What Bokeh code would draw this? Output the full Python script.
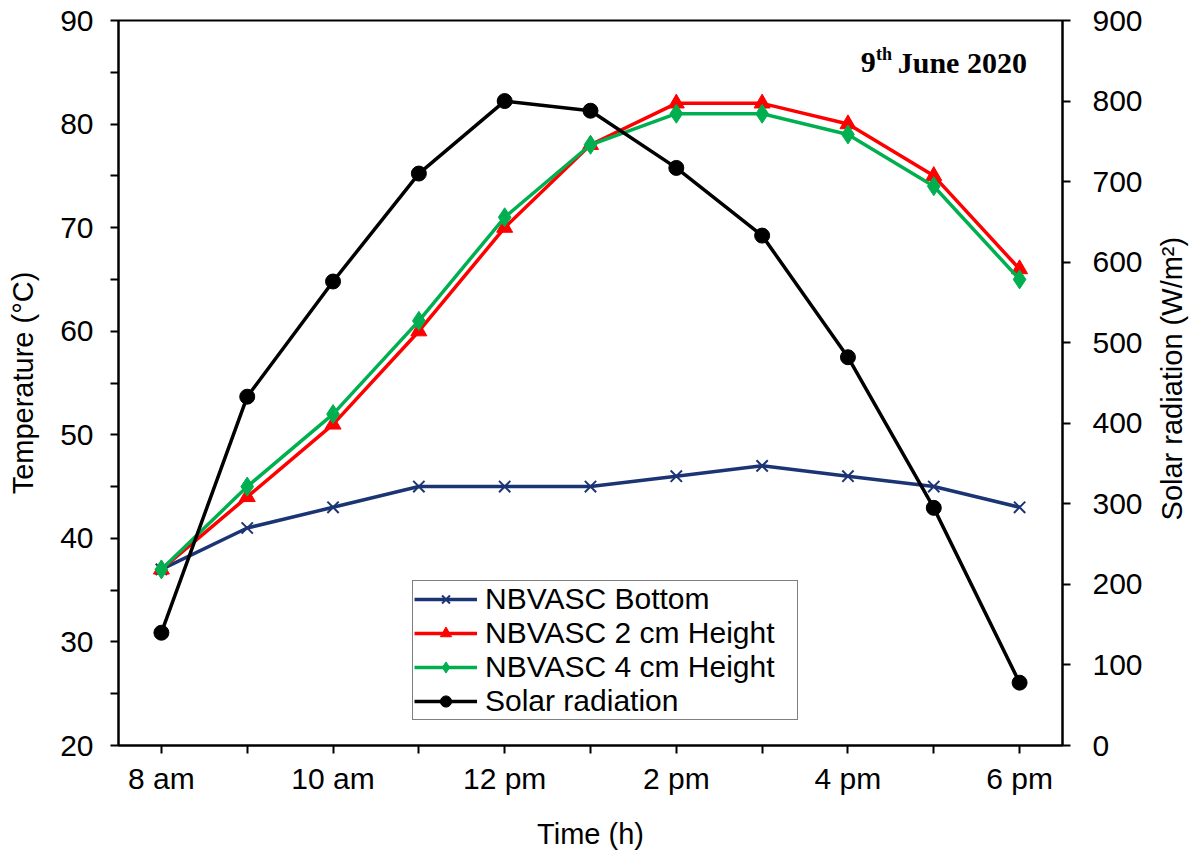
import math
from bokeh.plotting import figure
from bokeh.layouts import row
from bokeh.models import (Range1d, LinearAxis, FixedTicker, Legend, LegendItem, Label)
from bokeh.core.properties import value
from bokeh.embed import file_html
from bokeh.resources import INLINE

# Hourly readings, 8 am to 6 pm
hours = [8, 9, 10, 11, 12, 13, 14, 15, 16, 17, 18]
tick_labels = {8: "8 am", 10: "10 am", 12: "12 pm", 14: "2 pm", 16: "4 pm", 18: "6 pm"}

temp_bottom = [37, 41, 43, 45, 45, 45, 46, 47, 46, 45, 43]
temp_2cm = [37, 44, 51, 60, 70, 78, 82, 82, 80, 75, 66]
temp_4cm = [37, 45, 52, 61, 71, 78, 81, 81, 79, 74, 65]
solar = [140, 433, 576, 710, 800, 788, 717, 633, 482, 295, 78]

temp_ticks = list(range(20, 95, 5))
solar_ticks = list(range(0, 1000, 100))

FONT = "Liberation Sans"
SERIF = "Liberation Serif"

p = figure(width=1153, height=854, output_backend="svg", toolbar_location=None,
           x_range=Range1d(7.5, 18.5), y_range=Range1d(20, 90),
           min_border_left=118, min_border_right=91, min_border_top=20,
           min_border_bottom=109)
p.extra_y_ranges = {"solar": Range1d(0, 900)}

p.grid.visible = False
p.outline_line_color = "black"
p.outline_line_width = 2
p.background_fill_color = "white"
p.border_fill_color = "white"

# Axes
p.xaxis.ticker = FixedTicker(ticks=hours)
p.xaxis.major_label_overrides = {h: tick_labels.get(h, "") for h in hours}
p.xaxis.axis_label = "Time (h)"
p.yaxis.ticker = FixedTicker(ticks=temp_ticks)
p.yaxis.major_label_overrides = {t: (str(t) if t % 10 == 0 else "") for t in temp_ticks}
p.yaxis.axis_label = "Temperature (°C)"

right = LinearAxis(y_range_name="solar", ticker=FixedTicker(ticks=solar_ticks))
p.add_layout(right, "right")

for ax in p.axis:
    ax.axis_line_width = 2
    ax.axis_line_color = "black"
    ax.major_tick_line_width = 2
    ax.major_tick_out = 8
    ax.major_tick_in = 0
    ax.minor_tick_line_color = None
    ax.major_label_text_font = FONT
    ax.major_label_text_font_size = "30px"
    ax.major_label_text_color = "black"
    ax.axis_label_text_font = FONT
    ax.axis_label_text_font_size = "29px"
    ax.axis_label_text_font_style = "normal"
    ax.axis_label_text_color = "black"

p.xaxis.major_label_standoff = 8
p.xaxis.axis_label_standoff = 20
p.yaxis.major_label_standoff = 17
p.yaxis.axis_label_standoff = 18
right.major_label_standoff = 22

# Series
navy = "#1B3474"
red = "#FF0000"
green = "#00B050"

l1 = p.line(hours, temp_bottom, line_color=navy, line_width=3.5)
m1 = p.scatter(hours, temp_bottom, marker="x", size=16, line_color=navy, line_width=2)

l2 = p.line(hours, temp_2cm, line_color=red, line_width=3.5)
m2 = p.scatter(hours, temp_2cm, marker="triangle", size=16, fill_color=red, line_color=red)

l3 = p.line(hours, temp_4cm, line_color=green, line_width=3.5)
m3 = p.scatter(hours, temp_4cm, marker="diamond", size=19, fill_color=green, line_color=green)

l4 = p.line(hours, solar, line_color="black", line_width=3.5, y_range_name="solar")
m4 = p.scatter(hours, solar, marker="circle", size=15, fill_color="black", line_color="black",
               y_range_name="solar")

legend = Legend(items=[
    LegendItem(label="NBVASC Bottom", renderers=[l1, m1]),
    LegendItem(label="NBVASC 2 cm Height", renderers=[l2, m2]),
    LegendItem(label="NBVASC 4 cm Height", renderers=[l3, m3]),
    LegendItem(label="Solar radiation", renderers=[l4, m4]),
], location=(294, 25))
legend.label_text_font = FONT
legend.label_text_font_size = "30px"
legend.label_text_color = "black"
legend.glyph_width = 63
legend.glyph_height = 28
legend.label_height = 28
legend.label_width = 311
legend.spacing = 0
legend.padding = 1
legend.margin = 0
legend.label_standoff = 8
legend.border_line_color = "black"
legend.border_line_width = 1.5
legend.background_fill_alpha = 1
p.add_layout(legend, "center")

# Date annotation
p.add_layout(Label(x=16.15, y=85.94, text="9", text_font=SERIF, text_font_size="30px",
                   text_font_style="bold", text_color="black", text_baseline="alphabetic"))
p.add_layout(Label(x=16.326, y=86.81, text="th", text_font=SERIF, text_font_size="18px",
                   text_font_style="bold", text_color="black", text_baseline="alphabetic"))
p.add_layout(Label(x=16.58, y=85.94, text="June 2020", text_font=SERIF, text_font_size="30px",
                   text_font_style="bold", text_color="black", text_baseline="alphabetic"))

# Narrow strip carrying the right-hand axis title, reading bottom to top
side = figure(width=40, height=854, output_backend="svg", toolbar_location=None,
              x_range=Range1d(0, 1), y_range=Range1d(0, 1), min_border=0)
side.axis.visible = False
side.grid.visible = False
side.outline_line_color = None
side.text(x=[0.45], y=[0.506], text=["Solar radiation (W/m²)"], angle=math.pi / 2,
          text_align="center", text_baseline="middle", text_font=value(FONT),
          text_font_size="29px", text_color="black")

layout = row(p, side, spacing=0)
open("out.html", "w").write(file_html(layout, INLINE))
